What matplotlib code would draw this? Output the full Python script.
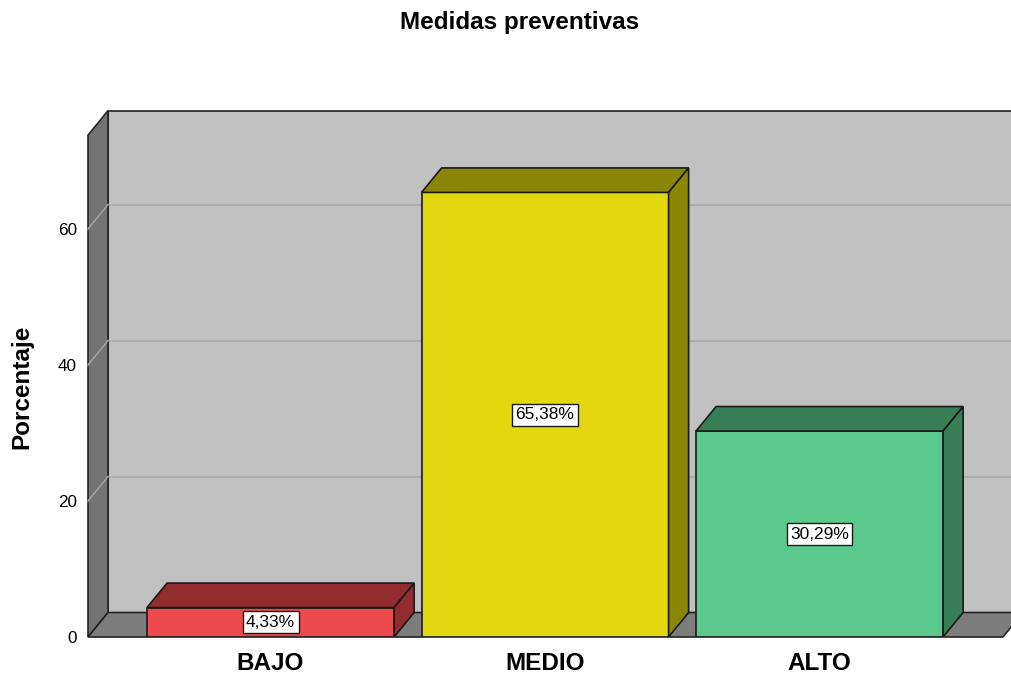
import matplotlib
matplotlib.use('Agg')
import matplotlib.pyplot as plt
from matplotlib.patches import Polygon

plt.rcParams['font.family'] = ['Liberation Sans', 'DejaVu Sans']

# data
categories = ['BAJO', 'MEDIO', 'ALTO']
values = [4.33, 65.38, 30.29]
labels = ['4,33%', '65,38%', '30,29%']
yticks = [0, 20, 40, 60]

front_colors = ['#ec4a4c', '#e3d80f', '#5cc98c']
dark_colors = ['#922c2e', '#8b8508', '#377e56']

# 3D look: depth offset (x in category units, y in percent units)
dx = 0.073
dy = 3.6
bar_w = 0.9
x_left = -0.665
x_floor_end = 2.668
x_right = 2.80
wall_top = 73.8

fig = plt.figure(figsize=(10.12, 6.75), dpi=100)
ax = fig.add_axes([88 / 1012, 38 / 675, (1012 - 88) / 1012, (637 - 100) / 675])
ax.set_xlim(x_left, 2.701)
ax.set_ylim(0, 537 / 6.8)
ax.set_facecolor('none')
for s in ax.spines.values():
    s.set_visible(False)

# back wall
ax.add_patch(Polygon([(x_left + dx, dy), (x_right, dy), (x_right, wall_top + dy),
                      (x_left + dx, wall_top + dy)],
                     facecolor='#c0c0c0', edgecolor='#222222', lw=1.2, clip_on=False, zorder=1))
# left wall
ax.add_patch(Polygon([(x_left, 0), (x_left + dx, dy), (x_left + dx, wall_top + dy),
                      (x_left, wall_top)],
                     facecolor='#737373', edgecolor='#222222', lw=1.2, clip_on=False, zorder=2))
# floor
ax.add_patch(Polygon([(x_left, 0), (x_floor_end, 0), (x_floor_end + dx, dy), (x_left + dx, dy)],
                     facecolor='#7d7d7d', edgecolor='#222222', lw=1.2, clip_on=False, zorder=2))

# gridlines
for v in yticks[1:]:
    ax.plot([x_left + dx, x_right], [v + dy, v + dy], color='#a8a8a8', lw=1.2, zorder=1.5,
            clip_on=False)
    ax.plot([x_left, x_left + dx], [v, v + dy], color='#a0a0a0', lw=1.2, zorder=2.5,
            clip_on=False)

# bars
for i, (val, fc, dc, lab) in enumerate(zip(values, front_colors, dark_colors, labels)):
    x0 = i - bar_w / 2
    x1 = i + bar_w / 2
    ax.add_patch(Polygon([(x0, 0), (x1, 0), (x1, val), (x0, val)],
                         facecolor=fc, edgecolor='#1a1a1a', lw=1.2, zorder=4))
    ax.add_patch(Polygon([(x0, val), (x1, val), (x1 + dx, val + dy), (x0 + dx, val + dy)],
                         facecolor=dc, edgecolor='#1a1a1a', lw=1.2, zorder=4))
    ax.add_patch(Polygon([(x1, 0), (x1 + dx, dy), (x1 + dx, val + dy), (x1, val)],
                         facecolor=dc, edgecolor='#1a1a1a', lw=1.2, zorder=4))
    ax.text(i, val / 2, lab, ha='center', va='center', fontsize=12.5, zorder=6,
            bbox=dict(boxstyle='square,pad=0.2', facecolor='white', edgecolor='#1a1a1a', lw=1))

ax.set_yticks(yticks)
ax.set_yticklabels([str(t) for t in yticks], fontsize=12.3)
ax.set_xticks(range(len(categories)))
ax.set_xticklabels(categories, fontsize=17.5, fontweight='bold')
ax.tick_params(axis='y', length=0, pad=8)
ax.tick_params(axis='x', length=0, pad=11)

fig.text(22 / 1012, 1 - 387 / 675, 'Porcentaje', rotation=90, ha='center', va='center',
         fontsize=17.5, fontweight='bold')
fig.text(520 / 1012, 1 - 22 / 675, 'Medidas preventivas', ha='center', va='center',
         fontsize=17.5, fontweight='bold')

fig.savefig('out.png', dpi=100)
